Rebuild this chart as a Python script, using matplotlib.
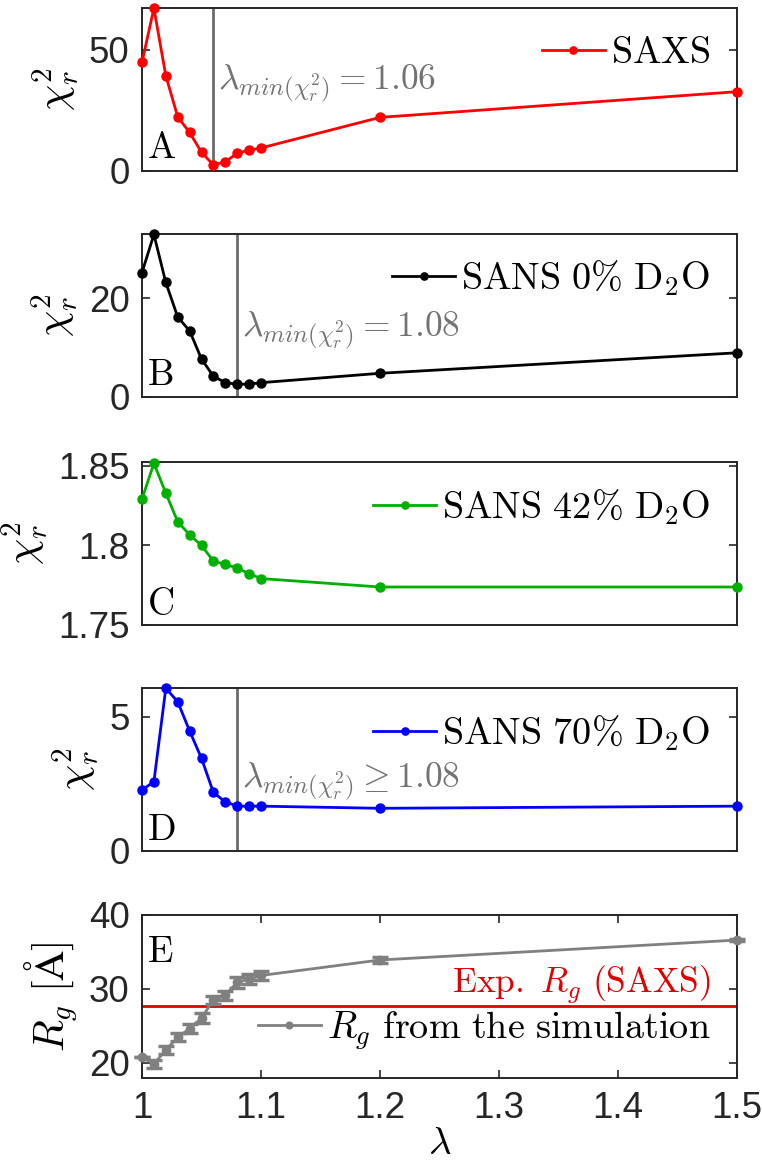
import numpy as np
import matplotlib
matplotlib.use("Agg")
import matplotlib.pyplot as plt
from matplotlib.lines import Line2D

# --- DATA ---
lam = [1.00, 1.01, 1.02, 1.03, 1.04, 1.05, 1.06, 1.07, 1.08, 1.09, 1.10, 1.20, 1.50]

chi_saxs = [44.8, 67.1, 39.3, 22.3, 15.9, 7.7, 2.5, 3.8, 7.3, 8.6, 9.5, 22.1, 32.7]
chi_sans0 = [25.2, 32.9, 23.2, 16.2, 13.4, 7.7, 4.2, 2.9, 2.6, 2.6, 2.9, 4.8, 8.95]
chi_sans42 = [1.8292, 1.8517, 1.8329, 1.8150, 1.8067, 1.8000, 1.7902, 1.7881,
              1.7858, 1.7823, 1.7792, 1.7739, 1.7739]
chi_sans70 = [2.27, 2.58, 6.06, 5.56, 4.47, 3.45, 2.18, 1.83, 1.67, 1.67, 1.67, 1.59, 1.67]

rg_sim = [20.8, 19.8, 21.7, 23.4, 24.6, 26.0, 28.5, 29.1, 30.9, 31.3, 31.8, 33.9, 36.6]
rg_err = [0.0, 0.55, 0.55, 0.55, 0.6, 0.65, 0.55, 0.6, 0.75, 0.65, 0.65, 0.35, 0.15]
rg_exp = 27.65

labels = [r"$\mathrm{SAXS}$", r"$\mathrm{SANS\ 0\%\ D_2O}$",
          r"$\mathrm{SANS\ 42\%\ D_2O}$", r"$\mathrm{SANS\ 70\%\ D_2O}$"]
panel_letters = ["A", "B", "C", "D", "E"]
lam_min = [1.06, 1.08, None, 1.08]
lam_min_text = [r"$\lambda_{min(\chi^2_r)}=1.06$", r"$\lambda_{min(\chi^2_r)}=1.08$", None,
                r"$\lambda_{min(\chi^2_r)}\geq 1.08$"]

# --- STYLE ---
plt.rcParams['font.family'] = ['Liberation Sans', 'DejaVu Sans']
plt.rcParams['mathtext.fontset'] = 'cm'
plt.rcParams['font.size'] = 26

W, H = 762, 1164
fig = plt.figure(figsize=(W / 100, H / 100), dpi=100)

left = 142 / W
width = (737 - 142) / W
height = 163 / H
bottoms_px = [171, 397, 625, 851, 1078]

box_col = (0.15, 0.15, 0.15)
gray_line = (0.42, 0.42, 0.42)
colors = ['#ff0000', '#000000', '#00b000', '#0000ff']
ylims = [(0, 67.2), (0, 33.0), (1.75, 1.8525), (0, 6.07)]
yticks = [[0, 50], [0, 20], [1.75, 1.8, 1.85], [0, 5]]
yticklabels = [["0", "50"], ["0", "20"], ["1.75", "1.8", "1.85"], ["0", "5"]]
legend_y = [0.724, 0.73, 0.724, 0.72]
annot_y = [0.54, 0.41, None, 0.43]
letter_y = [0.08, 0.074, 0.06, 0.067]
series = [chi_saxs, chi_sans0, chi_sans42, chi_sans70]
leg_fs = 27.5


def style_axes(ax):
    for s in ax.spines.values():
        s.set_color(box_col)
        s.set_linewidth(1.4)
    ax.tick_params(direction='in', length=6, width=1.2, colors=box_col,
                   labelcolor=(0.15, 0.15, 0.15), pad=9, labelsize=26.5,
                   left=True, right=True, top=True, bottom=True)
    ax.set_xlim(1.0, 1.5)


axes = []
for i in range(5):
    b = 1 - bottoms_px[i] / H
    ax = fig.add_axes([left, b, width, height])
    style_axes(ax)
    axes.append(ax)

for i in range(4):
    ax = axes[i]
    ax.plot(lam, series[i], '-o', color=colors[i], lw=2.0, ms=6.5,
            label=labels[i], clip_on=False, zorder=3)
    ax.set_ylim(*ylims[i])
    ax.set_yticks(yticks[i])
    ax.set_yticklabels(yticklabels[i])
    ax.set_xticks([])
    ax.set_ylabel(r"$\chi^2_r$", fontsize=30, labelpad=6)
    if lam_min[i] is not None:
        ax.axvline(lam_min[i], color=gray_line, lw=2.0, zorder=2)
        ax.text(lam_min[i] + 0.004, annot_y[i], lam_min_text[i], transform=ax.get_xaxis_transform(),
                color=(0.45, 0.45, 0.45), fontsize=25.5, va='center', ha='left')
    ax.text(0.008, letter_y[i], r"$\mathrm{%s}$" % panel_letters[i], transform=ax.transAxes,
            fontsize=27, va='baseline', ha='left')
    ax.legend(loc='center right', bbox_to_anchor=(0.955, legend_y[i]), frameon=False,
              fontsize=leg_fs, borderpad=0, borderaxespad=0, handlelength=1.65,
              handletextpad=0.15, markerscale=0.8)

# --- Panel E ---
ax = axes[4]
ax.axhline(rg_exp, color='#e00000', lw=2.0, zorder=2)
ax.errorbar(lam, rg_sim, yerr=rg_err, fmt='-o', color=(0.5, 0.5, 0.5), lw=2.0, ms=6,
            capsize=6, elinewidth=2.5, capthick=2.5, clip_on=False, zorder=3)
ax.set_ylim(17.9, 40)
ax.set_yticks([20, 30, 40])
ax.set_xticks([1.0, 1.1, 1.2, 1.3, 1.4, 1.5])
ax.set_xticklabels(["1", "1.1", "1.2", "1.3", "1.4", "1.5"])
ax.set_ylabel(r"$R_g\ [\mathrm{\AA}]$", fontsize=30, labelpad=6)
ax.set_xlabel(r"$\lambda$", fontsize=28, labelpad=0)
ax.text(0.955, 0.57, r"$\mathrm{Exp.}\ R_g\ \mathrm{(SAXS)}$", transform=ax.transAxes,
        color='#e00000', fontsize=25.5, ha='right', va='center')
ax.text(0.008, 0.71, r"$\mathrm{E}$", transform=ax.transAxes, fontsize=27,
        va='baseline', ha='left')
rg_handle = Line2D([], [], color=(0.5, 0.5, 0.5), lw=2.0, marker='o', ms=6)
ax.legend([rg_handle], [r"$R_g\ \mathrm{from\ the\ simulation}$"],
          loc='center right', bbox_to_anchor=(0.955, 0.29), frameon=False,
          fontsize=leg_fs, borderpad=0, borderaxespad=0, handlelength=1.65,
          handletextpad=0.15, markerscale=0.8)

fig.savefig("out.png", dpi=100)
